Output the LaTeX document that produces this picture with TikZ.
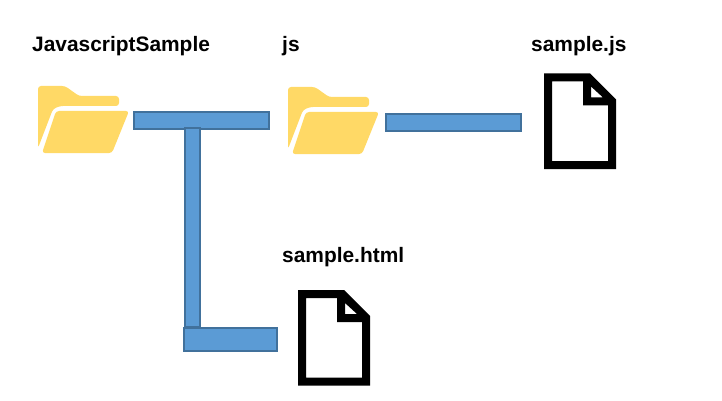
\documentclass[tikz,border=0pt]{standalone}
\usepackage{fontspec}
\setmainfont{Liberation Sans}
\definecolor{barfill}{HTML}{5B9BD5}
\definecolor{barline}{HTML}{41719C}
\definecolor{folderc}{HTML}{FFD966}
\tikzset{
  x=1pt,y=-1pt,
  label text/.style={anchor=base west,inner sep=0pt,font=\fontsize{20.9}{24}\selectfont\bfseries,text=black},
  bar/.style={draw=barline,line width=2pt,fill=barfill,rectangle,inner sep=0pt,anchor=north west},
  folderpart/.style={fill=folderc,draw=none},
  filepart/.style={fill=black,even odd rule,draw=none}
}
\newcommand{\folderpic}[2]{%
  \begin{scope}[shift={(#1,#2)}]
    \fill[folderpart,rounded corners=3pt] (0,12) -- (0,0) -- (27,0) -- (41,10) -- (81,10) -- (81,20) -- (22,20) -- (15,23) -- (0,62) -- cycle;
    \fill[folderpart,rounded corners=3pt] (18,25) -- (91,25) -- (74,67) -- (4,67) -- cycle;
  \end{scope}}
\newcommand{\filepic}[2]{%
  \begin{scope}[shift={(#1,#2)}]
    \fill[filepart] (0,0) -- (46,0) -- (72,26) -- (72,95.5) -- (0,95.5) -- cycle
      (8,8) -- (39,8) -- (39,32) -- (64,32) -- (64,87.5) -- (8,87.5) -- cycle
      (47,13) -- (47,24) -- (59,24) -- cycle;
  \end{scope}}
\begin{document}
\begin{tikzpicture}
\useasboundingbox (0,0) rectangle (722,401);
\folderpic{38}{86}
\folderpic{288}{87}
\filepic{544}{73.5}
\filepic{298}{290}
\node[bar,minimum width=135pt,minimum height=17pt] (b1) at (133,111) {};
\node[bar,minimum width=15pt,minimum height=199pt] (b2) at (184,127) {};
\node[bar,minimum width=93pt,minimum height=23pt] (b3) at (182.5,326.5) {};
\node[bar,minimum width=135pt,minimum height=17pt] (b4) at (385,113) {};
\node[label text] (t1) at (32,52) {JavascriptSample};
\node[label text] (t2) at (282,52) {js};
\node[label text] (t3) at (531,52) {sample.js};
\node[label text] (t4) at (282,262) {sample.html};
\end{tikzpicture}
\end{document}
